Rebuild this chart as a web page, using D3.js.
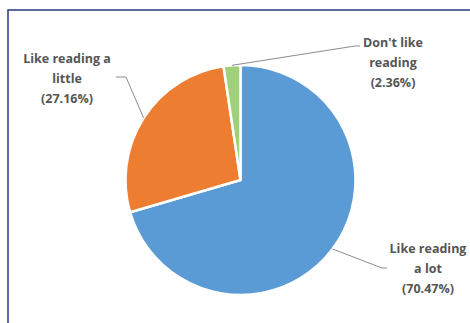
<!DOCTYPE html>
<html>
<head>
<meta charset="utf-8">
<script src="https://cdn.jsdelivr.net/npm/d3@7"></script>
<style>
  html, body { margin: 0; padding: 0; background: #fff; }
  svg { display: block; }
</style>
</head>
<body>
<div id="chart"></div>
<script>
// data
const categories = ["Like reading a lot", "Like reading a little", "Don't like reading"];
const values = [70.47, 27.16, 2.36];
const labelLines = [
  ["Like reading", "a lot", "(70.47%)"],
  ["Like reading a", "little", "(27.16%)"],
  ["Don't like", "reading", "(2.36%)"]
];
const colors = ["#5b9bd5", "#ed7d31", "#9fd07a"];

// layout of labels (text centre x, first line y, elbow point)
const labelLayout = [
  { x: 428, y: 253, elbow: [382, 268], end: [387, 268] },
  { x: 67, y: 63, elbow: [126, 77], end: [116, 77] },
  { x: 393, y: 47, elbow: [355, 46], end: [360, 46] }
];

const width = 470, height = 323;
const cx = 240.5, cy = 180, radius = 115;

const svg = d3.select("#chart").append("svg")
  .attr("width", width)
  .attr("height", height);

// frame
svg.append("rect")
  .attr("x", 8).attr("y", 10)
  .attr("width", 480).attr("height", 340)
  .attr("fill", "none")
  .attr("stroke", "#34448a")
  .attr("stroke-width", 1.6);

const pie = d3.pie().sort(null).value(d => d);
const arcs = pie(values);

const arc = d3.arc().innerRadius(0).outerRadius(radius);
const edgeArc = d3.arc().innerRadius(radius).outerRadius(radius);

const g = svg.append("g").attr("transform", `translate(${cx},${cy})`);

g.selectAll("path.slice")
  .data(arcs)
  .enter().append("path")
  .attr("class", "slice")
  .attr("d", arc)
  .attr("fill", (d, i) => colors[i])
  .attr("stroke", "#fff")
  .attr("stroke-width", 2.5)
  .attr("stroke-linejoin", "round");

// leader lines
g.selectAll("polyline.leader")
  .data(arcs)
  .enter().append("polyline")
  .attr("class", "leader")
  .attr("points", (d, i) => {
    const p = edgeArc.centroid(d);
    const L = labelLayout[i];
    return [p, [L.elbow[0] - cx, L.elbow[1] - cy], [L.end[0] - cx, L.end[1] - cy]].map(q => q.join(",")).join(" ");
  })
  .attr("fill", "none")
  .attr("stroke", "#8c8c8c")
  .attr("stroke-width", 1);

// labels
const labels = svg.selectAll("text.label")
  .data(labelLines)
  .enter().append("text")
  .attr("class", "label")
  .attr("text-anchor", "middle")
  .attr("font-family", "'Open Sans', 'Noto Sans', sans-serif")
  .attr("font-weight", 700)
  .attr("font-size", 12.5)
  .attr("fill", "#555555");

labels.each(function (lines, i) {
  const L = labelLayout[i];
  d3.select(this).selectAll("tspan")
    .data(lines)
    .enter().append("tspan")
    .attr("x", L.x)
    .attr("y", (d, j) => L.y + j * 20)
    .text(d => d);
});
</script>
</body>
</html>
